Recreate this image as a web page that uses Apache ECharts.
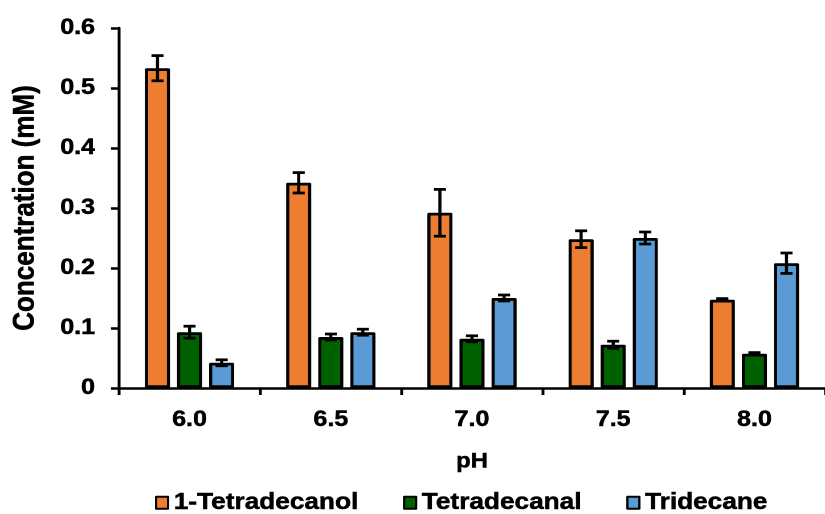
<!DOCTYPE html>
<html>
<head>
<meta charset="utf-8">
<script src="https://cdn.jsdelivr.net/npm/echarts@6/dist/echarts.min.js"></script>
<style>
html,body{margin:0;padding:0;background:#fff;overflow:hidden;}
#wrap{width:825px;height:514px;overflow:hidden;}
#chart{width:724px;height:514px;transform:scaleX(1.1395);transform-origin:0 0;}
</style>
</head>
<body>
<div id="wrap"><div id="chart"></div></div>
<script>
// ---- data ----
var categories = ['6.0', '6.5', '7.0', '7.5', '8.0'];
var seriesNames = ['1-Tetradecanol', 'Tetradecanal', 'Tridecane'];
var tetradecanol = [0.533, 0.342, 0.292, 0.248, 0.147];
var tetradecanolErr = [0.021, 0.017, 0.039, 0.014, 0.002];
var tetradecanal = [0.093, 0.085, 0.082, 0.072, 0.057];
var tetradecanalErr = [0.010, 0.005, 0.005, 0.006, 0.002];
var tridecane = [0.042, 0.093, 0.150, 0.250, 0.208];
var tridecaneErr = [0.005, 0.005, 0.005, 0.010, 0.017];
var yTicks = [0, 0.1, 0.2, 0.3, 0.4, 0.5, 0.6];

// ---- style (horizontal sizes in unstretched units; the reference is stretched 1.14x wide) ----
var colors = ['#ED7D31', '#006100', '#5B9BD5'];
var FONT = "'Liberation Sans', Arial, sans-serif";
var BAR_W = 22;
var BAR_GAP = 0.28;
var STEP = BAR_W * (1 + BAR_GAP);
var LW = 2.75;
var THICK = { textBorderColor: '#000', textBorderWidth: 0.5 };

function txt(size, extra) {
  var o = { fontFamily: FONT, fontWeight: 'bold', fontSize: size, color: '#000',
            textBorderColor: THICK.textBorderColor, textBorderWidth: THICK.textBorderWidth };
  if (extra) for (var k in extra) o[k] = extra[k];
  return o;
}

var values = [tetradecanol, tetradecanal, tridecane];
var errors = [tetradecanolErr, tetradecanalErr, tridecaneErr];

var series = [];
values.forEach(function (vals, s) {
  series.push({
    name: seriesNames[s],
    type: 'bar',
    data: vals,
    barWidth: BAR_W,
    barGap: (BAR_GAP * 100) + '%',
    itemStyle: { color: colors[s], borderColor: '#000', borderWidth: LW, borderJoin: 'round' },
    z: 2
  });
});
values.forEach(function (vals, s) {
  var d = vals.map(function (v, i) { return [i, v, errors[s][i]]; });
  series.push({
    type: 'custom',
    name: seriesNames[s] + ' err',
    z: 5,
    silent: true,
    renderItem: function (params, api) {
      var i = api.value(0), v = api.value(1), e = api.value(2);
      var c = api.coord([i, v]);
      var hi = api.coord([i, v + e]);
      var lo = api.coord([i, v - e]);
      var x = c[0] + (s - 1) * STEP;
      var st = { stroke: '#000', lineWidth: LW };
      var cap = 5.3;
      return {
        type: 'group',
        children: [
          { type: 'line', shape: { x1: x, y1: hi[1], x2: x, y2: lo[1] }, style: st },
          { type: 'line', shape: { x1: x - cap, y1: hi[1], x2: x + cap, y2: hi[1] }, style: st },
          { type: 'line', shape: { x1: x - cap, y1: lo[1], x2: x + cap, y2: lo[1] }, style: st }
        ]
      };
    },
    data: d
  });
});

var chart = echarts.init(document.getElementById('chart'), null, { renderer: 'canvas', devicePixelRatio: 2 });
chart.setOption({
  animation: false,
  backgroundColor: '#fff',
  textStyle: { fontFamily: FONT },
  grid: { left: 104.4, top: 28, width: 627.5, height: 360, containLabel: false },
  legend: {
    data: seriesNames,
    left: 131,
    top: 486,
    itemWidth: 10.5,
    itemHeight: 12,
    itemGap: 39,
    icon: 'rect',
    textStyle: txt(23)
  },
  xAxis: {
    type: 'category',
    data: categories,
    name: 'pH',
    nameLocation: 'middle',
    nameGap: 63,
    nameTextStyle: txt(21),
    axisLine: { lineStyle: { color: '#000', width: 2.5 } },
    axisTick: { show: true, alignWithLabel: false, length: 7, lineStyle: { color: '#000', width: 2.5 } },
    axisLabel: txt(22, { margin: 21 }),
    splitLine: { show: false }
  },
  yAxis: {
    type: 'value',
    min: yTicks[0],
    max: yTicks[yTicks.length - 1],
    interval: 0.1,
    name: 'Concentration (mM)',
    nameLocation: 'middle',
    nameRotate: 90,
    nameGap: 69,
    nameTextStyle: txt(26),
    axisLine: { show: true, lineStyle: { color: '#000', width: 2.5 } },
    axisTick: { show: true, length: 7, lineStyle: { color: '#000', width: 2.5 } },
    axisLabel: txt(22, {
      margin: 21,
      formatter: function (v) { return v === 0 ? '0' : v.toFixed(1); }
    }),
    splitLine: { show: false }
  },
  series: series
});
</script>
</body>
</html>
